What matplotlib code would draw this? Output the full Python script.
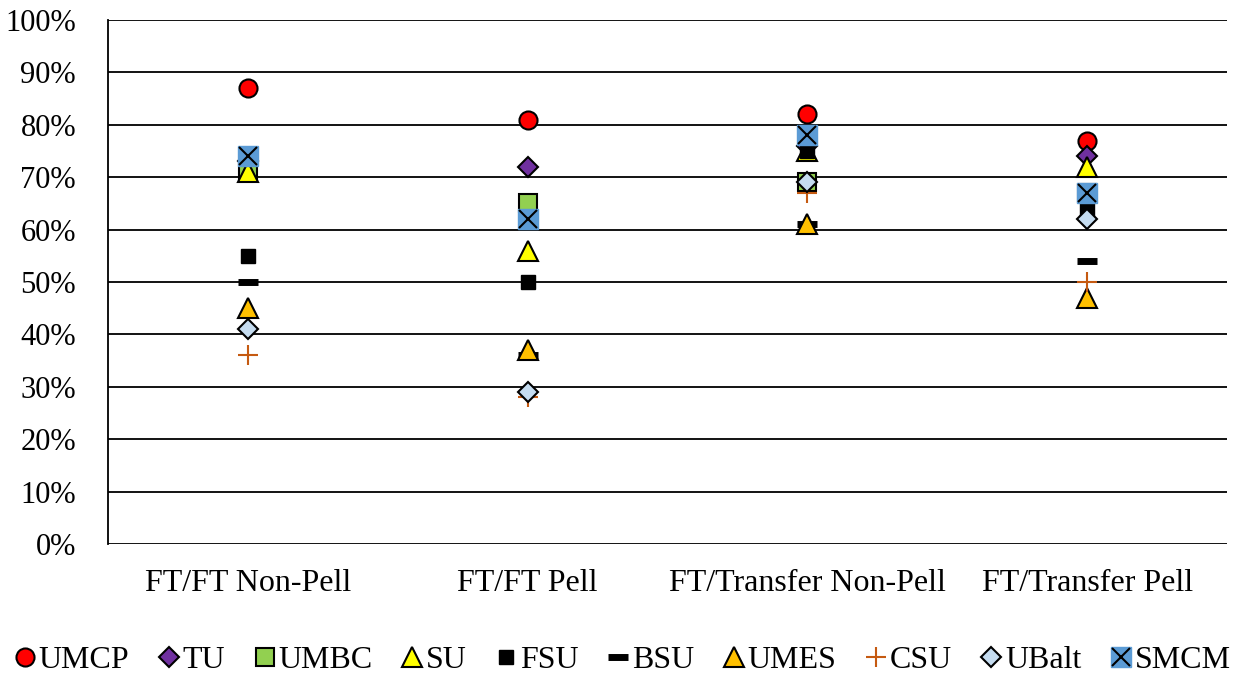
import matplotlib
matplotlib.use('Agg')
import matplotlib.pyplot as plt
import numpy as np

plt.rcParams['font.family'] = ['Liberation Serif', 'DejaVu Serif']

categories = ['FT/FT Non-Pell', 'FT/FT Pell', 'FT/Transfer Non-Pell', 'FT/Transfer Pell']

umcp = [87, 81, 82, 77]
tu = [73, 72, 76, 74]
umbc = [71, 65, 69, 67]
su = [71, 56, 75, 72]
fsu = [55, 50, 75, 64]
bsu = [50, 36, 61, 54]
umes = [45, 37, 61, 47]
csu = [36, 28, 67, 50]
ubalt = [41, 29, 69, 62]
smcm = [74, 62, 78, 67]

x = np.arange(len(categories))

fig = plt.figure(figsize=(12.47, 6.75), dpi=100)
ax = fig.add_axes([108/1247, 1-544/675, (1227-108)/1247, (544-20)/675])

# 网格线
ax.set_ylim(0, 100)
ax.set_xlim(-0.5, 3.5)
ax.set_yticks(range(0, 101, 10))
ax.set_yticklabels([f'{v}%' for v in range(0, 101, 10)])
ax.yaxis.grid(True, color='black', linewidth=1.3)
ax.set_axisbelow(True)
for s in ['top', 'right', 'bottom']:
    ax.spines[s].set_visible(False)
ax.spines['left'].set_linewidth(1.3)
ax.tick_params(axis='y', length=0, labelsize=22, pad=23)
ax.tick_params(axis='x', length=0, labelsize=23, pad=18)
ax.set_xticks(x)
ax.set_xticklabels(categories)

ms = 13
h_umcp, = ax.plot(x, umcp, 'o', ms=ms, mfc='#FF0000', mec='black', mew=1.5, ls='none', label='UMCP')
h_tu, = ax.plot(x, tu, 'D', ms=10, mfc='#7030A0', mec='black', mew=1.5, ls='none', label='TU')
h_umbc, = ax.plot(x, umbc, 's', ms=13, mfc='#92D050', mec='black', mew=1.5, ls='none', label='UMBC')
h_su, = ax.plot(x, su, '^', ms=14, mfc='#FFFF00', mec='black', mew=1.5, ls='none', label='SU')
h_fsu, = ax.plot(x, fsu, 's', ms=10, mfc='black', mec='black', mew=1, ls='none', label='FSU')
h_bsu, = ax.plot(x, bsu, '_', ms=14, mec='black', mew=5, ls='none', label='BSU')
h_umes, = ax.plot(x, umes, '^', ms=14, mfc='#FFC000', mec='black', mew=1.5, ls='none', label='UMES')
h_csu, = ax.plot(x, csu, '+', ms=15, mec='#C55A11', mew=1.5, ls='none', label='CSU')
h_ubalt, = ax.plot(x, ubalt, 'D', ms=10, mfc='#C5DCF0', mec='black', mew=1.5, ls='none', label='UBalt')
h_smcm1, = ax.plot(x, smcm, 's', ms=14, mfc='#5B9BD5', mec='#5B9BD5', mew=1, ls='none')
h_smcm2, = ax.plot(x, smcm, 'x', ms=13, mec='black', mew=1.5, ls='none')

handles = [h_umcp, h_tu, h_umbc, h_su, h_fsu, h_bsu, h_umes, h_csu, h_ubalt, (h_smcm1, h_smcm2)]
labels = ['UMCP', 'TU', 'UMBC', 'SU', 'FSU', 'BSU', 'UMES', 'CSU', 'UBalt', 'SMCM']
fig.legend(handles, labels, loc='center', bbox_to_anchor=(0.5, 1-660/675), ncol=10,
           frameon=False, fontsize=23, handlelength=0.55, handletextpad=0.15,
           columnspacing=0.97, markerscale=1.0, borderpad=0)

fig.savefig('out.png', dpi=100)
